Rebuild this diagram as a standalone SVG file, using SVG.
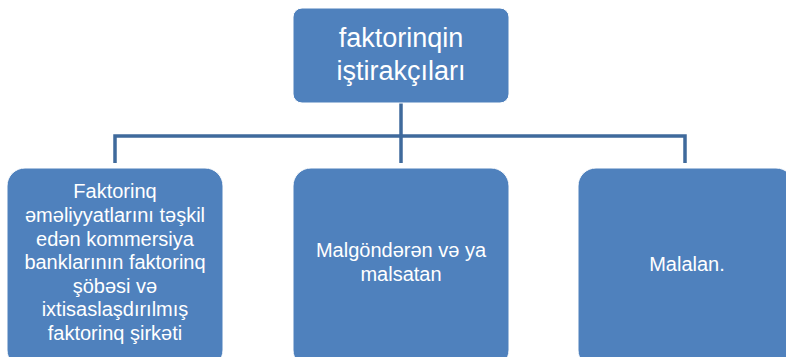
<svg xmlns="http://www.w3.org/2000/svg" width="786" height="357" viewBox="0 0 786 357">
<style>
.box{fill:#4F81BD;stroke:#ffffff;stroke-width:1}
.t{fill:#ffffff;font-family:"Liberation Sans",Arial,sans-serif;text-anchor:middle}
.s{font-size:20px}
.b{font-size:27px}
.c{fill:none;stroke:#3F6A9C;stroke-width:3.5}
</style>
<rect width="786" height="357" fill="#ffffff"/>
<g id="connectors">
<path class="c" d="M401 103 V163"/>
<path class="c" d="M115 163 V136 H685 V163"/>
</g>
<g id="top">
<rect class="box" x="293" y="8" width="216" height="95" rx="9"/>
<text class="t b" x="401" y="47">faktorinqin</text>
<text class="t b" x="401" y="80">iştirakçıları</text>
</g>
<g id="left">
<rect class="box" x="7" y="168" width="216" height="200" rx="18"/>
<text class="t s"><tspan x="115" y="198">Faktorinq</tspan><tspan x="115" y="222">əməliyyatlarını təşkil</tspan><tspan x="115" y="245.5">edən kommersiya</tspan><tspan x="115" y="269">banklarının faktorinq</tspan><tspan x="115" y="292.5">şöbəsi və</tspan><tspan x="115" y="316">ixtisaslaşdırılmış</tspan><tspan x="115" y="340">faktorinq şirkəti</tspan></text>
</g>
<g id="middle">
<rect class="box" x="293" y="168" width="216" height="200" rx="18"/>
<text class="t s"><tspan x="401" y="257">Malgöndərən və ya</tspan><tspan x="401" y="281">malsatan</tspan></text>
</g>
<g id="right">
<rect class="box" x="578" y="168" width="216" height="200" rx="18"/>
<text class="t s" x="687" y="271">Malalan.</text>
</g>
</svg>
